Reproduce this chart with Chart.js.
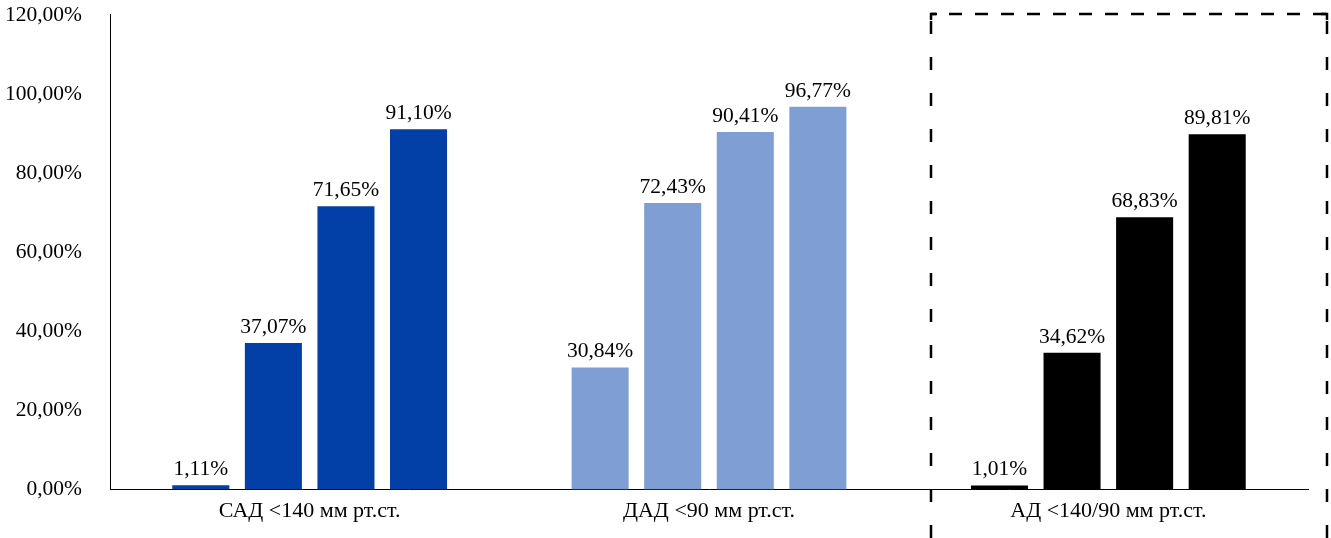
<!DOCTYPE html>
<html>
<head>
<meta charset="utf-8">
<script src="https://cdn.jsdelivr.net/npm/chart.js@4/dist/chart.umd.min.js"></script>
<style>
  html, body { margin: 0; padding: 0; background: #fff; }
  #wrap { width: 1331px; height: 538px; position: relative; }
</style>
</head>
<body>
<div id="wrap"><canvas id="canvas"></canvas></div>
<script>
// Data
const categories = ['САД <140 мм рт.ст.', 'ДАД <90 мм рт.ст.', 'АД <140/90 мм рт.ст.'];
const bar1 = [1.11, 30.84, 1.01];
const bar2 = [37.07, 72.43, 34.62];
const bar3 = [71.65, 90.41, 68.83];
const bar4 = [91.10, 96.77, 89.81];
const yTicks = [0, 20, 40, 60, 80, 100, 120];

const groupColors = ['#023FA6', '#7F9FD4', '#000000'];
const serif = '"Liberation Serif", "Times New Roman", serif';

function pct(v) {
  return v.toFixed(2).replace('.', ',') + '%';
}

// value labels above each bar
const valueLabels = {
  id: 'valueLabels',
  afterDatasetsDraw(chart) {
    const ctx = chart.ctx;
    ctx.save();
    ctx.font = '21.5px ' + serif;
    ctx.fillStyle = '#000';
    ctx.textAlign = 'center';
    ctx.textBaseline = 'bottom';
    chart.data.datasets.forEach((ds, i) => {
      chart.getDatasetMeta(i).data.forEach((bar, j) => {
        ctx.fillText(pct(ds.data[j]), bar.x, bar.y - 5);
      });
    });
    ctx.restore();
  }
};

// dashed frame round the last group
const dashedFrame = {
  id: 'dashedFrame',
  afterDraw(chart) {
    const x = chart.scales.x;
    const y = chart.scales.y;
    const cw = x.getPixelForValue(1) - x.getPixelForValue(0);
    const left = Math.round(x.getPixelForValue(2) - cw * 0.444);
    const right = Math.round(chart.chartArea.right + 19);
    const top = Math.round(y.getPixelForValue(120) - 1);
    const bottom = chart.height + 10;
    const ctx = chart.ctx;
    ctx.save();
    ctx.strokeStyle = '#000';
    ctx.lineWidth = 2.5;
    // top edge
    ctx.setLineDash([13, 13]);
    ctx.lineDashOffset = 8;
    ctx.beginPath();
    ctx.moveTo(left, top);
    ctx.lineTo(right, top);
    ctx.stroke();
    // sides
    ctx.setLineDash([13, 23]);
    ctx.lineDashOffset = 29;
    ctx.beginPath();
    ctx.moveTo(left, top);
    ctx.lineTo(left, bottom);
    ctx.moveTo(right, top);
    ctx.lineTo(right, bottom);
    ctx.stroke();
    // corner pieces
    ctx.setLineDash([]);
    ctx.beginPath();
    ctx.moveTo(left, top + 6);
    ctx.lineTo(left, top);
    ctx.lineTo(left + 6, top);
    ctx.moveTo(right - 6, top);
    ctx.lineTo(right, top);
    ctx.lineTo(right, top + 6);
    ctx.stroke();
    ctx.restore();
  }
};

const ctx = document.getElementById('canvas').getContext('2d');

new Chart(ctx, {
  type: 'bar',
  data: {
    labels: categories,
    datasets: [bar1, bar2, bar3, bar4].map((d, i) => ({
      label: 'bar ' + (i + 1),
      data: d,
      backgroundColor: groupColors,
      borderWidth: 0
    }))
  },
  options: {
    responsive: true,
    maintainAspectRatio: false,
    animation: false,
    categoryPercentage: 0.727,
    barPercentage: 0.786,
    layout: { padding: { left: 0, right: 23, top: 4, bottom: 6 } },
    plugins: {
      legend: { display: false },
      tooltip: { enabled: false }
    },
    scales: {
      x: {
        grid: { display: false, drawTicks: false },
        border: { display: true, color: '#000', width: 1 },
        ticks: {
          color: '#000',
          font: { family: serif, size: 22 },
          padding: 8
        }
      },
      y: {
        min: 0,
        max: 120,
        afterBuildTicks(scale) {
          scale.ticks = yTicks.map(v => ({ value: v }));
        },
        afterFit(scale) {
          scale.width = 110;
        },
        grid: { display: false, drawTicks: true, tickLength: 26 },
        border: { display: true, color: '#000', width: 1 },
        ticks: {
          color: '#000',
          font: { family: serif, size: 21.5 },
          padding: 2,
          callback: v => pct(v)
        }
      }
    }
  },
  plugins: [valueLabels, dashedFrame]
});
</script>
</body>
</html>
